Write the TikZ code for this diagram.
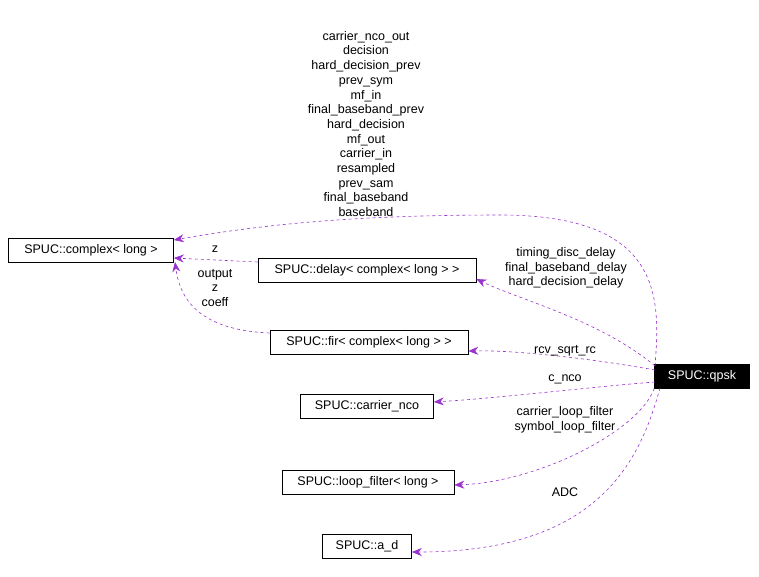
\documentclass[tikz,border=0pt]{standalone}
\usepackage{fontspec}
\setmainfont{Liberation Sans}
\usetikzlibrary{arrows.meta}
\definecolor{edge}{HTML}{9A32CD}
\begin{document}
\begin{tikzpicture}[x=1pt,y=-1pt,
 box/.style={draw,semithick,inner sep=0pt,minimum height=24pt,font=\fontsize{12.5}{14.7}\selectfont},
 lab/.style={font=\fontsize{12.5}{14.7}\selectfont,align=center,inner sep=0pt},
 e/.style={draw=edge,dashed,semithick,-{Stealth[length=10pt,width=8pt]},fill=none}]
\useasboundingbox (0,0) rectangle (759,576);
\node[box,minimum width=165pt] (cx) at (91,250) {SPUC::complex< long >};
\node[box,minimum width=218pt] (dl) at (367,270) {SPUC::delay< complex< long > >};
\node[box,minimum width=198pt] (fir) at (369,342) {SPUC::fir< complex< long > >};
\node[box,minimum width=133pt] (nco) at (367,406) {SPUC::carrier\_nco};
\node[box,minimum width=172pt] (lf) at (368,482) {SPUC::loop\_filter< long >};
\node[box,minimum width=89pt] (ad) at (367,546) {SPUC::a\_d};
\node[box,minimum width=95pt,fill=black,text=white] (q) at (702,376) {SPUC::qpsk};
\coordinate (q1) at (655,366);
\draw[e] (q1) .. controls (660,300) and (665,215) .. (500,215) .. controls (350,215) and (260,225) .. (cx.east |- 0,240);
\draw[e] (q1) .. controls (600,320) and (520,300) .. (dl.east |- 0,279);
\draw[e] (655,370) .. controls (600,360) and (520,350) .. (fir.east |- 0,351);
\draw[e] (655,382) .. controls (600,386) and (500,398) .. (nco.east |- 0,402);
\draw[e] (q.south west) .. controls (640,430) and (540,482) .. (lf.east |- 0,485);
\draw[e] (660,388) .. controls (640,460) and (600,552) .. (ad.east |- 0,552);
\draw[e] (dl.west |- 0,262) -- (cx.east |- 0,258);
\draw[e] (fir.west |- 0,333) .. controls (200,330) and (180,300) .. (175,262);
\node[lab] (l1) at (366,124) {carrier\_nco\_out\\decision\\hard\_decision\_prev\\prev\_sym\\mf\_in\\final\_baseband\_prev\\hard\_decision\\mf\_out\\carrier\_in\\resampled\\prev\_sam\\final\_baseband\\baseband};
\node[lab] (l2) at (566,268) {timing\_disc\_delay\\final\_baseband\_delay\\hard\_decision\_delay};
\node[lab] (l3) at (565,351) {rcv\_sqrt\_rc};
\node[lab] (l4) at (565,379) {c\_nco};
\node[lab] (l5) at (565,420) {carrier\_loop\_filter\\symbol\_loop\_filter};
\node[lab] (l6) at (565,492) {ADC};
\node[lab] (l7) at (215,249) {z};
\node[lab] (l8) at (215,288) {output\\z\\coeff};
\end{tikzpicture}
\end{document}
